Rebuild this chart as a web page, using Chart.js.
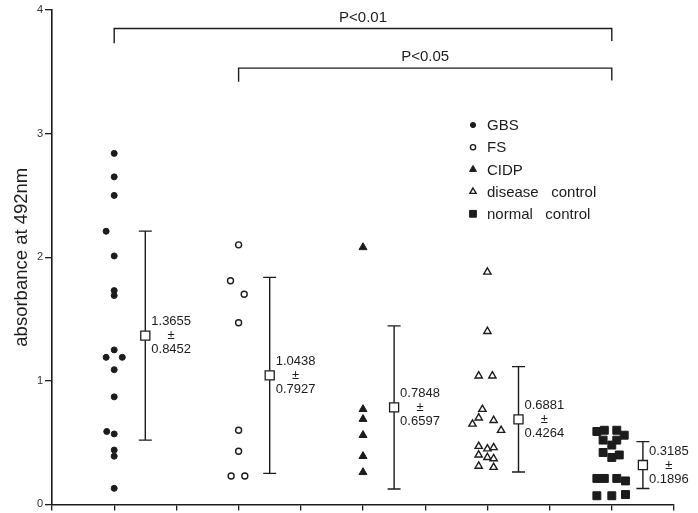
<!DOCTYPE html>
<html>
<head>
<meta charset="utf-8">
<script src="https://cdn.jsdelivr.net/npm/chart.js@4.4.0/dist/chart.umd.min.js"></script>
<style>
  html, body { margin: 0; padding: 0; background: #fff; }
  #wrap { width: 698px; height: 513px; }
</style>
</head>
<body>
<div id="wrap"><canvas id="chart" width="698" height="513"></canvas></div>
<script>
// group names (legend order)
const groups = ['GBS', 'FS', 'CIDP', 'disease   control', 'normal   control'];

// individual samples (x = group slot + small jitter)
const gbsX = [1, 1, 1, 0.935, 1, 1, 1, 1, 0.935, 1.065, 1, 1, 0.94, 1, 1, 1, 1];
const gbsY = [2.84, 2.65, 2.50, 2.21, 2.01, 1.73, 1.69, 1.25, 1.19, 1.19, 1.09, 0.87, 0.59, 0.57, 0.44, 0.39, 0.13];

const fsX = [2, 1.935, 2.045, 2, 2, 2, 1.94, 2.05];
const fsY = [2.10, 1.81, 1.70, 1.47, 0.60, 0.43, 0.23, 0.23];

const cidpX = [3, 3, 3, 3, 3, 3];
const cidpY = [2.08, 0.77, 0.69, 0.56, 0.39, 0.26];

const dcX = [4, 4, 3.93, 4.04, 3.96, 3.93, 3.88, 4.05, 4.11, 3.93, 4, 4.05, 3.93, 4, 4.05, 3.93, 4.05];
const dcY = [1.88, 1.40, 1.04, 1.04, 0.77, 0.70, 0.65, 0.68, 0.60, 0.47, 0.45, 0.46, 0.40, 0.38, 0.37, 0.31, 0.30];

const ncX = [4.88, 4.94, 5.04, 5.10, 4.93, 5.04, 5, 4.93, 5, 5.06, 4.88, 4.94, 5.04, 5.11, 4.88, 5, 5.11];
const ncY = [0.59, 0.60, 0.60, 0.56, 0.52, 0.52, 0.48, 0.42, 0.38, 0.40, 0.21, 0.21, 0.21, 0.19, 0.07, 0.07, 0.08];

// mean ± SD per group
const means = [1.3655, 1.0438, 0.7848, 0.6881, 0.3185];
const sds = [0.8452, 0.7927, 0.6597, 0.4264, 0.1896];
const meanOffset = 0.25;

// significance brackets
const bracket1X = [1, 1, 5, 5];
const bracket1Y = [3.73, 3.85, 3.85, 3.75];
const bracket2X = [2, 2, 5, 5];
const bracket2Y = [3.42, 3.53, 3.53, 3.43];
const pLabels = ['P<0.01', 'P<0.05'];

const yTicks = [0, 1, 2, 3, 4];
const xTicks = [0.5, 1, 1.5, 2, 2.5, 3, 3.5, 4, 4.5, 5, 5.5];

const INK = '#1c1c1c';
const FONT = '"Liberation Sans", Arial, sans-serif';

const zip = (xs, ys) => xs.map((x, i) => ({ x: x, y: ys[i] }));

const pointStyles = [
  { style: 'circle', radius: 3, fill: INK, border: INK, width: 1 },
  { style: 'circle', radius: 3, fill: '#fff', border: INK, width: 1.4 },
  { style: 'triangle', radius: 4.6, fill: INK, border: INK, width: 1 },
  { style: 'triangle', radius: 4.2, fill: '#fff', border: INK, width: 1.4 },
  { style: 'rect', radius: 5.6, fill: INK, border: INK, width: 1 },
];

const samples = [zip(gbsX, gbsY), zip(fsX, fsY), zip(cidpX, cidpY), zip(dcX, dcY), zip(ncX, ncY)];

const sampleSets = samples.map((data, i) => ({
  label: groups[i],
  data: data,
  pointStyle: pointStyles[i].style,
  pointRadius: pointStyles[i].radius,
  backgroundColor: pointStyles[i].fill,
  borderColor: pointStyles[i].border,
  pointBorderWidth: pointStyles[i].width,
  showLine: false,
}));

const meanSet = {
  label: 'mean',
  data: means.map((m, i) => ({ x: i + 1 + meanOffset, y: m })),
  pointStyle: 'rect',
  pointRadius: 6.4,
  backgroundColor: '#fff',
  borderColor: INK,
  pointBorderWidth: 1.3,
  showLine: false,
};

const bracketStyle = {
  showLine: true,
  pointRadius: 0,
  borderColor: INK,
  borderWidth: 1.4,
  fill: false,
  tension: 0,
};

// draws a legend marker by hand
function marker(ctx, st, x, y, r) {
  ctx.save();
  ctx.fillStyle = st.fill;
  ctx.strokeStyle = st.border;
  ctx.lineWidth = st.width;
  ctx.beginPath();
  if (st.style === 'circle') {
    ctx.arc(x, y, r, 0, Math.PI * 2);
  } else if (st.style === 'triangle') {
    ctx.moveTo(x, y - r);
    ctx.lineTo(x + r * 0.866, y + r * 0.5);
    ctx.lineTo(x - r * 0.866, y + r * 0.5);
    ctx.closePath();
  } else {
    ctx.rect(x - r, y - r, r * 2, r * 2);
  }
  ctx.fill();
  ctx.stroke();
  ctx.restore();
}

const errorBars = {
  id: 'errorBars',
  beforeDatasetsDraw(chart) {
    const { ctx, scales: { x, y } } = chart;
    ctx.save();
    ctx.strokeStyle = INK;
    ctx.lineWidth = 1.4;
    means.forEach((m, i) => {
      const px = x.getPixelForValue(i + 1 + meanOffset);
      const top = y.getPixelForValue(m + sds[i]);
      const bot = y.getPixelForValue(m - sds[i]);
      ctx.beginPath();
      ctx.moveTo(px, top); ctx.lineTo(px, bot);
      ctx.moveTo(px - 6.5, top); ctx.lineTo(px + 6.5, top);
      ctx.moveTo(px - 6.5, bot); ctx.lineTo(px + 6.5, bot);
      ctx.stroke();
    });
    ctx.restore();
  },
};

const annotations = {
  id: 'annotations',
  afterDatasetsDraw(chart) {
    const { ctx, scales: { x, y } } = chart;
    ctx.save();
    ctx.fillStyle = INK;

    // mean ± sd labels
    ctx.font = '13px ' + FONT;
    ctx.textBaseline = 'middle';
    means.forEach((m, i) => {
      const px = x.getPixelForValue(i + 1 + meanOffset) + 6;
      const py = y.getPixelForValue(m);
      const a = m.toFixed(4);
      const b = sds[i].toFixed(4);
      const w = ctx.measureText(a).width;
      ctx.textAlign = 'left';
      ctx.fillText(a, px, py - 14);
      ctx.fillText(b, px, py + 14);
      ctx.textAlign = 'center';
      ctx.fillText('±', px + w / 2, py);
    });

    // p-values over the brackets
    ctx.font = '15px ' + FONT;
    ctx.textAlign = 'center';
    const brackets = [[bracket1X, bracket1Y], [bracket2X, bracket2Y]];
    brackets.forEach(([bx, by], i) => {
      const cx = (x.getPixelForValue(bx[1]) + x.getPixelForValue(bx[2])) / 2;
      const cy = y.getPixelForValue(by[1]) - 11;
      ctx.fillText(pLabels[i], cx, cy);
    });

    // legend
    ctx.font = '15px ' + FONT;
    ctx.textAlign = 'left';
    const lx = 473, ly = 125, step = 22.2;
    const legendSize = [2.6, 2.6, 4, 3.6, 3.4];
    groups.forEach((g, i) => {
      const yy = ly + i * step;
      marker(ctx, pointStyles[i], lx, yy, legendSize[i]);
      ctx.fillText(g, lx + 14, yy + 1);
    });
    ctx.restore();
  },
};

new Chart(document.getElementById('chart'), {
  type: 'scatter',
  data: {
    datasets: [
      meanSet,
      ...sampleSets,
      Object.assign({ label: 'b1', data: zip(bracket1X, bracket1Y) }, bracketStyle),
      Object.assign({ label: 'b2', data: zip(bracket2X, bracket2Y) }, bracketStyle),
    ],
  },
  options: {
    responsive: false,
    animation: false,
    events: [],
    layout: { padding: { top: 10, right: 24, bottom: 0, left: 0 } },
    plugins: {
      legend: { display: false },
      tooltip: { enabled: false },
    },
    scales: {
      x: {
        type: 'linear',
        min: 0.5,
        max: 5.5,
        afterBuildTicks: (s) => { s.ticks = xTicks.map(v => ({ value: v })); },
        afterFit: (s) => { s.height = 7; },
        ticks: { display: false },
        grid: { drawOnChartArea: false, drawTicks: true, tickLength: 6, color: INK, lineWidth: 1.3 },
        border: { color: INK, width: 1.6 },
      },
      y: {
        min: 0,
        max: 4,
        afterBuildTicks: (s) => { s.ticks = yTicks.map(v => ({ value: v })); },
        afterFit: (s) => { s.width = 52; },
        ticks: { color: '#333', padding: 2, font: { family: FONT, size: 11 } },
        grid: { drawOnChartArea: false, drawTicks: true, tickLength: 7, color: INK, lineWidth: 1.3 },
        border: { color: INK, width: 1.6 },
        title: {
          display: true,
          text: 'absorbance at 492nm',
          color: INK,
          padding: { top: 11, bottom: 0 },
          font: { family: FONT, size: 18.5 },
        },
      },
    },
  },
  plugins: [errorBars, annotations],
});
</script>
</body>
</html>
